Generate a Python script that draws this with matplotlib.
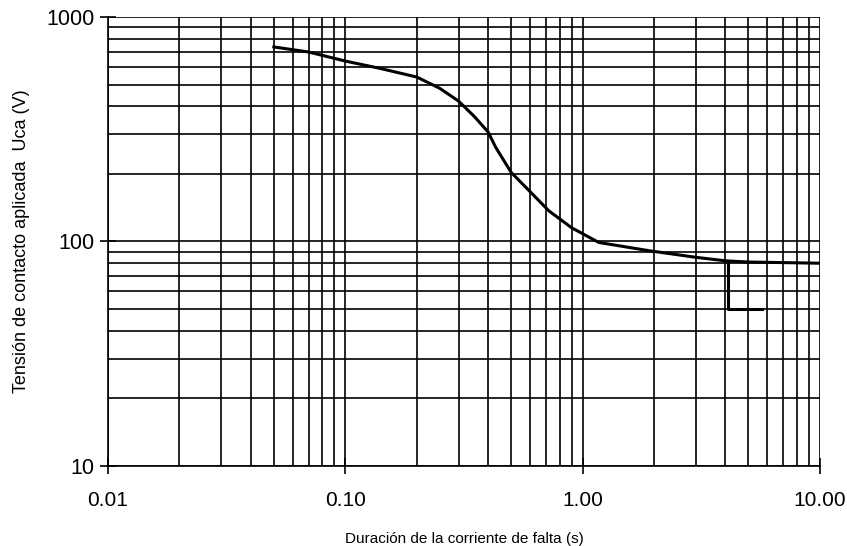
import matplotlib.pyplot as plt
from matplotlib.ticker import LogLocator, FixedLocator, NullFormatter

plt.rcParams['font.family'] = ['Liberation Sans', 'DejaVu Sans']

# curva tensión de contacto aplicada admisible
t_s = [0.05, 0.07, 0.10, 0.14, 0.20, 0.25, 0.30, 0.35, 0.40, 0.43, 0.50,
       0.61, 0.72, 0.90, 1.17, 1.90, 3.00, 4.00, 5.00, 10.00]
uca_v = [735, 698, 636, 590, 540, 481, 422, 360, 307, 263, 203,
         164, 137, 115, 99, 91, 85, 82, 81, 80]

# tramo escalonado
step_t = [4.1, 4.1, 5.7]
step_u = [81, 50, 50]

x_ticks = [0.01, 0.1, 1, 10]
x_labels = ['0.01', '0.10', '1.00', '10.00']
y_ticks = [10, 100, 1000]
y_labels = ['10', '100', '1000']

fig = plt.figure(figsize=(8.47, 5.46), dpi=100)
ax = fig.add_axes([0.1275, 0.1465, 0.8405, 0.8225])
ax.set_xscale('log')
ax.set_yscale('log')
ax.set_xlim(0.01, 10)
ax.set_ylim(10, 1000)

ax.plot(t_s, uca_v, color='black', lw=2.2, zorder=3)
ax.plot(step_t, step_u, color='black', lw=2.2, zorder=3)

ax.xaxis.set_major_locator(FixedLocator(x_ticks))
ax.yaxis.set_major_locator(FixedLocator(y_ticks))
ax.set_xticklabels(x_labels)
ax.set_yticklabels(y_labels)
ax.xaxis.set_minor_locator(LogLocator(base=10, subs=range(2, 10)))
ax.yaxis.set_minor_locator(LogLocator(base=10, subs=range(2, 10)))
ax.xaxis.set_minor_formatter(NullFormatter())
ax.yaxis.set_minor_formatter(NullFormatter())

ax.grid(True, which='both', color='black', lw=1.2)
ax.tick_params(which='major', direction='inout', length=12, width=1.2)
ax.tick_params(axis='x', which='major', pad=12, labelsize=15)
ax.tick_params(axis='y', which='major', labelsize=15.5)
ax.tick_params(which='minor', length=0)

for side in ['top', 'right']:
    ax.spines[side].set_visible(False)
for side in ['left', 'bottom']:
    ax.spines[side].set_linewidth(1.2)

ax.set_xlabel('Duración de la corriente de falta (s)', fontsize=11, labelpad=16)
ax.set_ylabel('Tensión de contacto aplicada  Uca (V)', fontsize=13, labelpad=12)

fig.savefig('out.png', dpi=100, facecolor='white')
